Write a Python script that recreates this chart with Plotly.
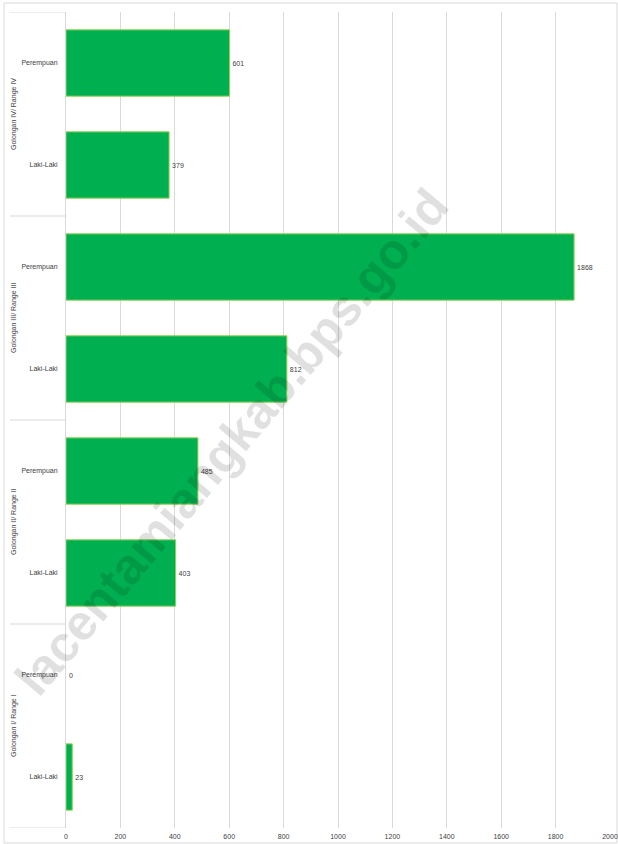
import plotly.graph_objects as go

# Data (top to bottom in the reference; plotted bottom-up)
groups = ["Golongan I/ Range I", "Golongan I/ Range I",
          "Golongan II/ Range II", "Golongan II/ Range II",
          "Golongan III/ Range III", "Golongan III/ Range III",
          "Golongan IV/ Range IV", "Golongan IV/ Range IV"]
sexes = ["Laki-Laki", "Perempuan", "Laki-Laki", "Perempuan",
         "Laki-Laki", "Perempuan", "Laki-Laki", "Perempuan"]
values = [23, 0, 403, 485, 812, 1868, 379, 601]
group_names = ["Golongan I/ Range I", "Golongan II/ Range II",
               "Golongan III/ Range III", "Golongan IV/ Range IV"]
x_ticks = [0, 200, 400, 600, 800, 1000, 1200, 1400, 1600, 1800, 2000]

W, H = 618, 844
L, R, T, B = 66, 8, 12, 16
pw, ph = W - L - R, H - T - B

cat_ids = [f"{g}|{s}" for g, s in zip(groups, sexes)]

fig = go.Figure()
fig.add_trace(go.Bar(
    x=values, y=cat_ids, orientation="h",
    width=0.65,
    marker=dict(color="#00B050",
                line=dict(color="#92D050", width=[1 if v > 0 else 0 for v in values])),
    text=[str(v) for v in values], textposition="outside",
    textfont=dict(size=7, color="#404040", family="Liberation Sans"),
    cliponaxis=False, showlegend=False, hoverinfo="skip",
))

def px_x(p):
    return (p - L) / pw

def px_y(p):
    return (H - B - p) / ph

shapes = []
# group dividers in label column
for b in [-0.5, 1.5, 3.5, 5.5, 7.5]:
    shapes.append(dict(type="line", xref="paper", yref="y",
                       x0=px_x(10), x1=0, y0=b, y1=b,
                       line=dict(color="#D9D9D9", width=1)))
# outer chart border
shapes.append(dict(type="rect", xref="paper", yref="paper",
                   x0=px_x(4), x1=px_x(617), y0=px_y(843), y1=px_y(3),
                   line=dict(color="#D9D9D9", width=1), layer="below"))

annotations = []
for i, g in enumerate(group_names):
    annotations.append(dict(text=g, xref="paper", yref="y",
                            x=px_x(14), y=2 * i + 0.5, textangle=-90,
                            xanchor="center", yanchor="middle",
                            showarrow=False,
                            font=dict(size=7, color="#404040", family="Liberation Sans")))
# watermark
annotations.append(dict(text="<b>lacentamiangkab.bps.go.id</b>", xref="paper", yref="paper",
                        x=px_x(232), y=px_y(442), xanchor="center", yanchor="middle",
                        textangle=-50, showarrow=False,
                        font=dict(size=50, color="rgba(0,0,0,0.12)", family="Liberation Sans")))

fig.update_layout(
    width=W, height=H,
    margin=dict(l=L, r=R, t=T, b=B, autoexpand=False),
    paper_bgcolor="white", plot_bgcolor="white",
    bargap=0.35,
    shapes=shapes, annotations=annotations,
    xaxis=dict(range=[0, 2000], tickvals=x_ticks, ticktext=[str(v) for v in x_ticks],
               showgrid=True, gridcolor="#D9D9D9", gridwidth=1, zeroline=False,
               showline=False, ticks="", automargin=False, ticklabeloverflow="allow",
               ticklabelstandoff=3,
               tickfont=dict(size=7, color="#404040", family="Liberation Sans")),
    yaxis=dict(type="category", categoryorder="array", categoryarray=cat_ids,
               range=[-0.5, 7.5], tickvals=cat_ids, ticktext=sexes,
               showgrid=False, zeroline=False, showline=True, linecolor="#D9D9D9",
               ticks="", ticklabelstandoff=6, automargin=False,
               tickfont=dict(size=7, color="#404040", family="Liberation Sans")),
)

fig.write_html("out.html", config={"displayModeBar": False},
               post_script="document.body.style.margin='0px';document.body.style.padding='0px';")
